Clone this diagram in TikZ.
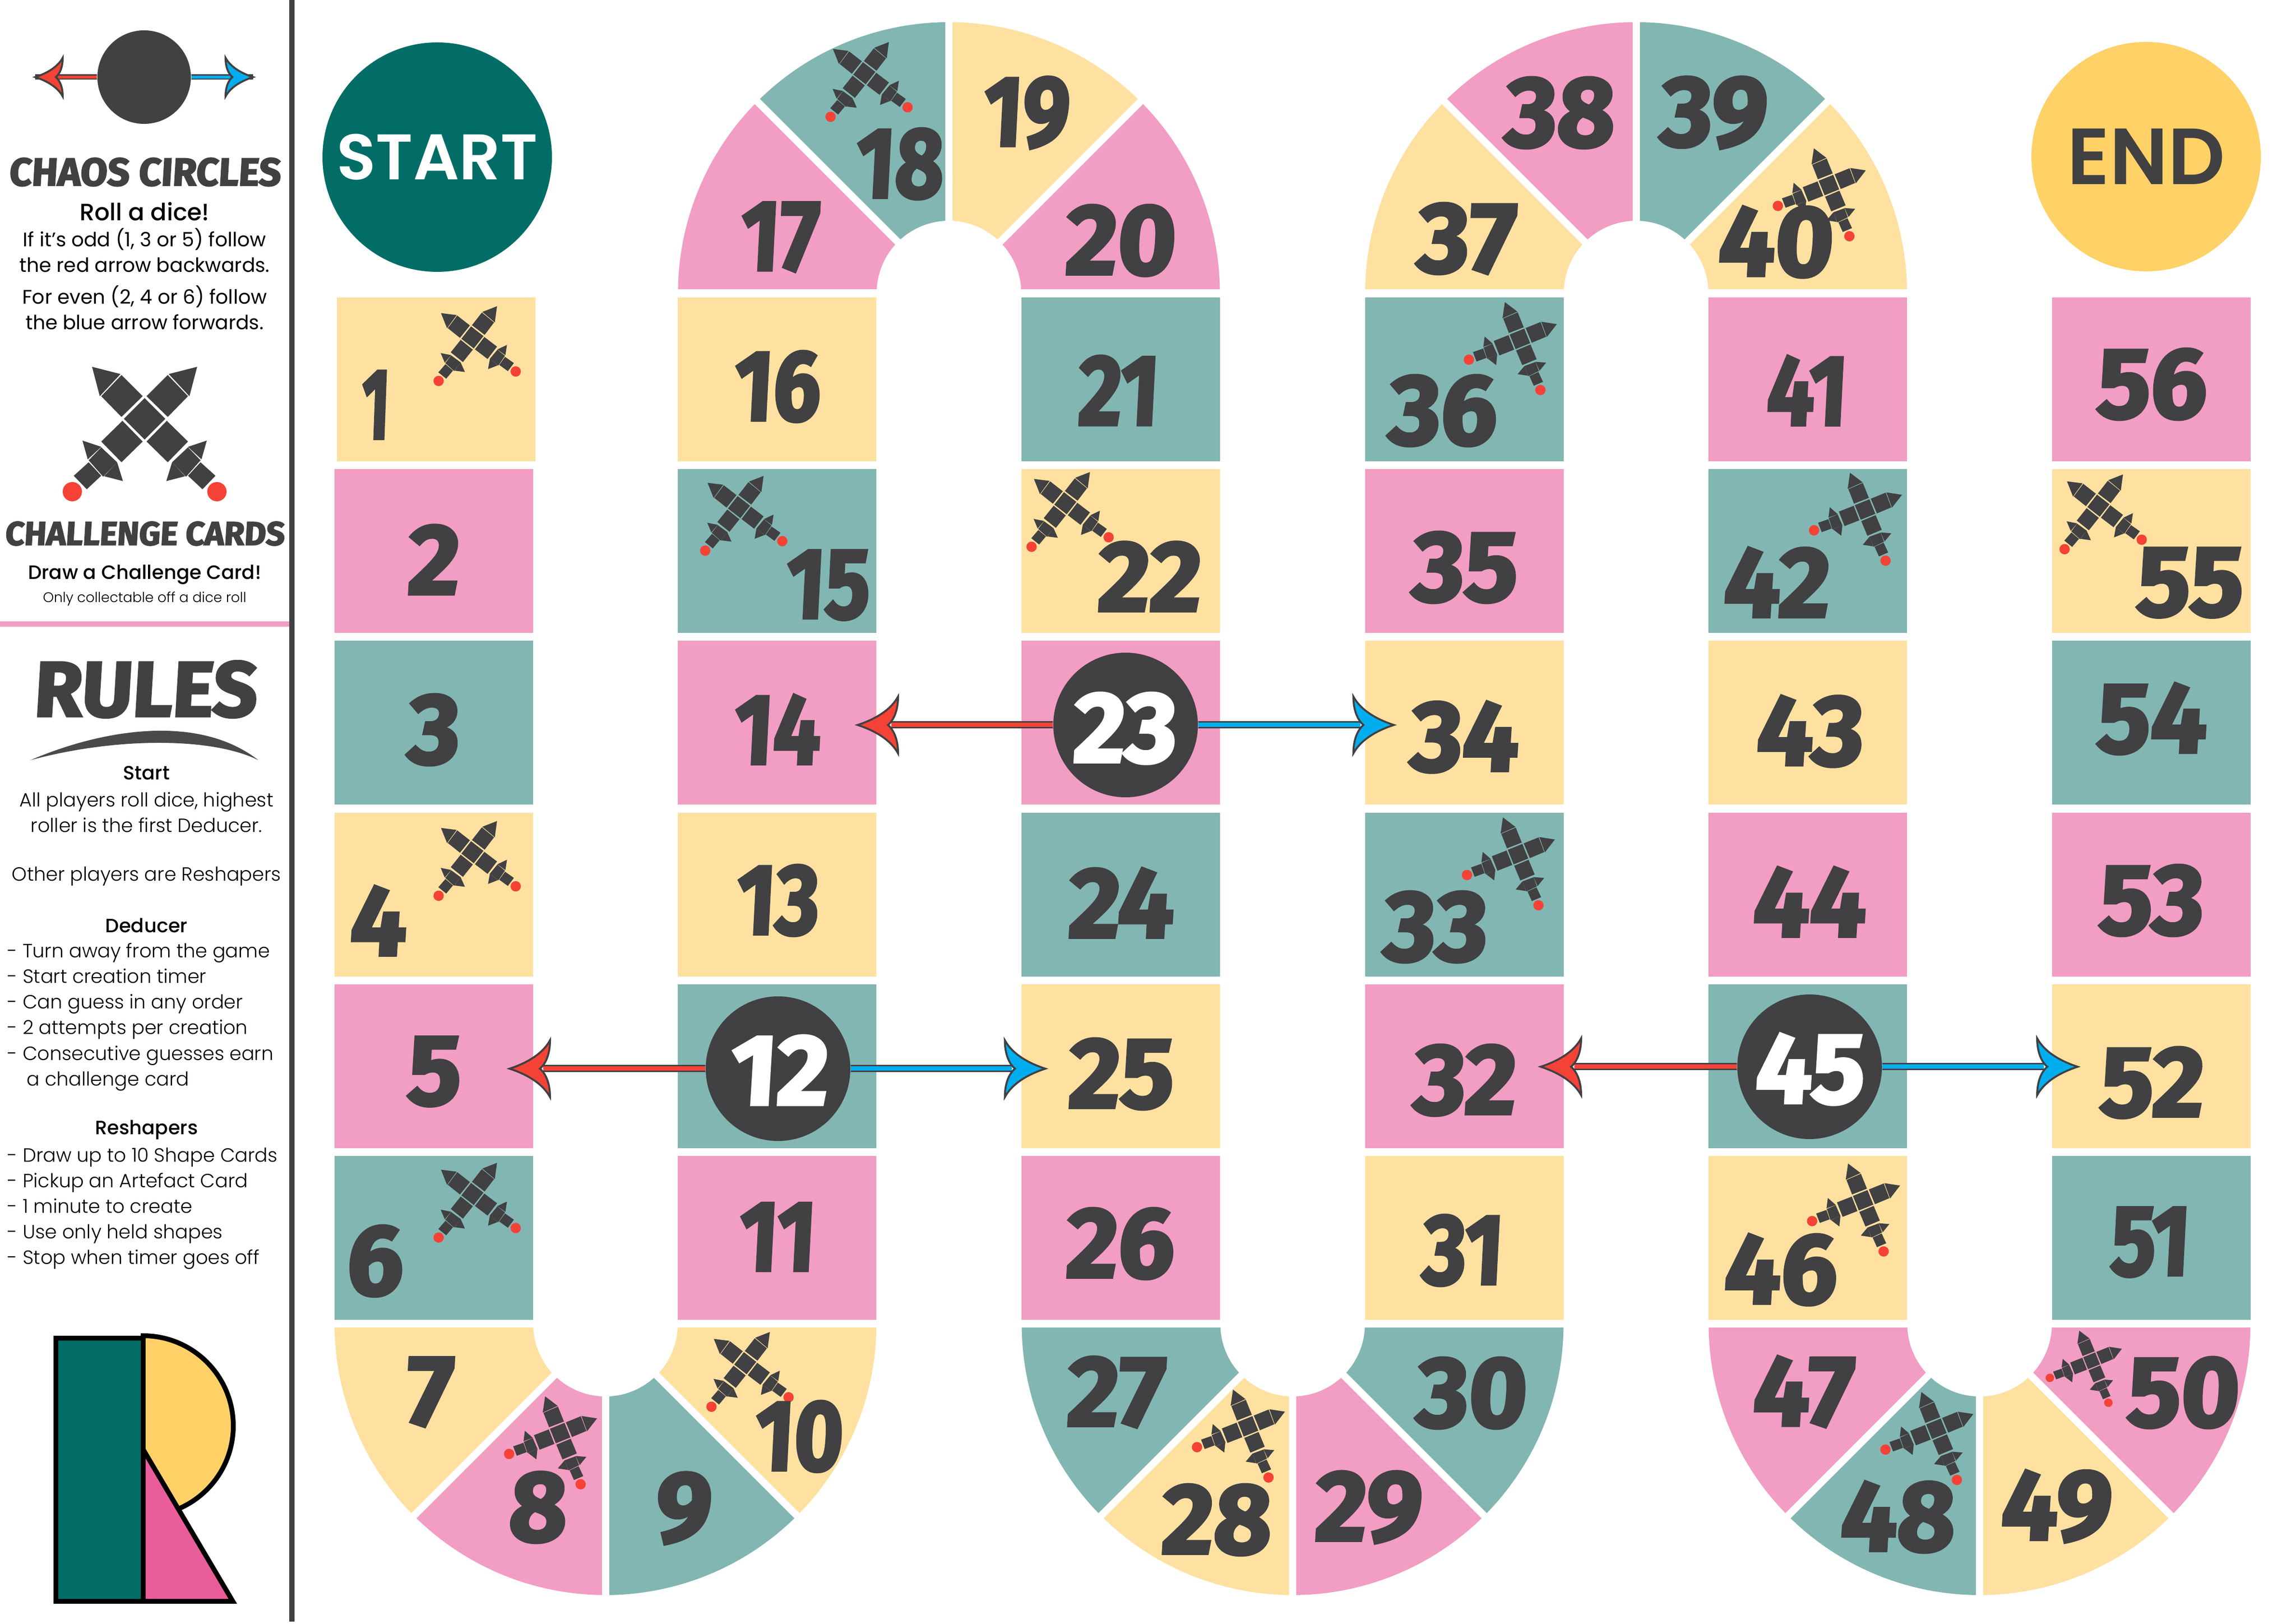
\documentclass[tikz,border=0pt]{standalone}
\usepackage{fontspec}
\setmainfont{Poppins}
\newfontfamily\brushfont[UprightFont=* Bold,FakeBold=3,FakeSlant=0.06,Numbers=Proportional]{Fira Sans}
\newfontfamily\lightfont[UprightFont=* Light]{Poppins}
\newfontfamily\midfont[UprightFont=* Medium]{Poppins}
\newfontfamily\semifont[UprightFont=* SemiBold]{Poppins}
\usetikzlibrary{calc}
\definecolor{tile0}{HTML}{82B6B2}
\definecolor{tile1}{HTML}{FEE1A1}
\definecolor{tile2}{HTML}{F29DC3}
\definecolor{ink}{HTML}{414042}
\definecolor{backred}{HTML}{F44336}
\definecolor{foreblue}{HTML}{00AEEF}
\definecolor{logoteal}{HTML}{016D66}
\definecolor{logosun}{HTML}{FFD166}
\definecolor{logopink}{HTML}{E95D9B}
\def\ringsector[#1](#2)(#3:#4){\fill[#1] ($(#2)+(#3:5.62)$) arc (#3:#4:5.62) -- ($(#2)+(#4:1.5)$) arc (#4:#3:1.5) -- cycle;}
\def\narrowdigits#1{\scalebox{0.84}[1]{#1}}
\tikzset{
	tile/.style={minimum width=4.115cm,minimum height=3.4cm,inner sep=0},
	num/.style={inner sep=0,text=ink,font=\brushfont\fontsize{59}{59}\selectfont},
	disc/.style={circle,fill=ink,minimum size=3cm,inner sep=0},
	gap/.style={white,line width=1.5mm},
	head/.style={inner sep=0,text=ink,font=\brushfont\fontsize{23}{23}\selectfont},
	body/.style={inner sep=0,align=center,font=\fontsize{11.6}{15.1}\selectfont},
	subhead/.style={inner sep=0,font=\midfont\fontsize{11.4}{15}\selectfont},
	lightbody/.style={inner sep=0,align=left,font=\lightfont\fontsize{11.3}{15.1}\selectfont},
	rail/.pic={
		\fill[ink,draw=ink,line width=0.4mm,fill=#1] (0,0) .. controls (-0.4,0.13) and (-0.7,0.33) .. (-0.84,0.59) .. controls (-0.84,0.3) and (-0.75,0.1) .. (-0.63,0) .. controls (-0.75,-0.1) and (-0.84,-0.3) .. (-0.84,-0.59) .. controls (-0.7,-0.33) and (-0.4,-0.13) .. cycle;
	},
	swords/.pic={
		\fill[ink] (0,0.43) -- (0.43,0) -- (0,-0.43) -- (-0.43,0) -- cycle;
		\foreach \m in {1,-1}{
			\begin{scope}[xscale=\m]
				\fill[ink] (-1.09,1.08) -- (-0.50,0.93) -- (-0.93,0.47) -- cycle;
				\fill[ink] (-0.48,0.91) -- (-0.04,0.47) -- (-0.48,0.04) -- (-0.90,0.47) -- cycle;
				\fill[ink] (-0.46,-0.04) -- (-0.04,-0.47) -- (-0.48,-0.90) -- (-0.90,-0.47) -- cycle;
				\fill[ink] (-0.90,-0.59) -- (-0.57,-0.90) -- (-0.86,-1.20) -- (-1.16,-0.86) -- cycle;
				\fill[ink] (-1.16,-0.90) -- (-0.90,-1.18) -- (-1.20,-1.46) -- (-1.47,-1.18) -- cycle;
				\fill[ink] (-1.29,-0.45) -- (-0.90,-0.58) -- (-1.18,-0.84) -- cycle;
				\fill[ink] (-0.84,-1.19) -- (-0.57,-0.90) -- (-0.45,-1.29) -- cycle;
				\fill[backred] (-1.50,-1.51) circle (0.20);
			\end{scope}
		}
	}
}
\begin{document}
\begin{tikzpicture}
	\useasboundingbox (0,0) rectangle (47.63,33.69);
	%%%%% SIDEBAR %%%%%
	\fill[ink] (6.00,0.05) rectangle (6.11,33.69);
	\fill[tile2] (0,20.69) rectangle (6.00,20.80);
	
	\node[disc,minimum size=1.94cm] (sidedisc) at (2.99,32.09) {};
	\coordinate (sidered) at (0.73,32.09);
	\coordinate (sideblue) at (5.25,32.09);
	\draw[ink,line width=1.1mm] (sidedisc) -- (sidered);
	\draw[ink,line width=1.1mm] (sidedisc) -- (sideblue);
	\draw[backred,line width=0.6mm] (sidedisc) -- ($(sidered)+(0.4,0)$);
	\draw[foreblue,line width=0.6mm] (sidedisc) -- ($(sideblue)-(0.4,0)$);
	\pic[rotate=180,scale=0.68] at (sidered) {rail=backred};
	\pic[scale=0.68] at (sideblue) {rail=foreblue};
	
	\node[head] (chaoshead) at (3.00,30.12) {CHAOS CIRCLES};
	\node[subhead,font=\midfont\fontsize{14}{15}\selectfont] (rolldice) at (3.00,29.30) {Roll a dice!};
	\node[body] (oddrule) at (3.00,28.50) {If it's odd (1, 3 or 5) follow\\the red arrow backwards.};
	\node[body] (evenrule) at (3.00,27.31) {For even (2, 4 or 6) follow\\the blue arrow forwards.};
	\pic at (3.00,25.00) {swords};
	\node[head,font=\brushfont\fontsize{19.5}{22}\selectfont] (cardhead) at (3.00,22.62) {CHALLENGE CARDS};
	\node[subhead] (drawcard) at (3.00,21.77) {Draw a Challenge Card!};
	\node[body,font=\lightfont\fontsize{8.2}{10}\selectfont] (collect) at (3.00,21.27) {Only collectable off a dice roll};
	
	\node[head,font=\brushfont\fontsize{46}{46}\selectfont] (ruleshead) at (3.00,19.39) {RULES};
	\fill[ink!95] (0.63,17.92) .. controls (2.1,18.55) and (4.1,18.9) .. (5.36,17.92) .. controls (4.4,18.4) and (2.4,18.4) .. cycle;
	\node[subhead] (starthead) at (3.04,17.65) {Start};
	\node[lightbody,align=center] (startrule) at (3.04,16.84) {All players roll dice, highest\\roller is the first Deducer.};
	\node[lightbody] (otherrule) at (3.04,15.51) {Other players are Reshapers};
	\node[subhead] (deducerhead) at (3.04,14.49) {Deducer};
	\node[lightbody,anchor=north west] (deducerrule) at (0.15,14.13) {- Turn away from the game\\- Start creation timer\\- Can guess in any order\\- 2 attempts per creation\\- Consecutive guesses earn\\\hspace*{0.4cm}a challenge card};
	\node[subhead] (reshaperhead) at (3.04,10.25) {Reshapers};
	\node[lightbody,anchor=north west] (reshaperrule) at (0.15,9.89) {- Draw up to 10 Shape Cards\\- Pickup an Artefact Card\\- 1 minute to create\\- Use only held shapes\\- Stop when timer goes off};
	
	%%%%% LOGO %%%%%
	\draw[line width=1mm,fill=logosun] (2.97,5.98) arc (90:-90:1.87) -- cycle;
	\draw[line width=1mm,fill=logopink] (2.97,3.62) -- (4.83,0.47) -- (2.97,0.47) -- cycle;
	\draw[line width=1mm,fill=logoteal] (1.16,5.93) rectangle (2.97,0.47);
	
	%%%%% ENDS %%%%%
	\node[circle,fill=logoteal,minimum size=4.76cm,inner sep=0,text=white,font=\semifont\fontsize{38}{38}\selectfont] (start) at (9.07,30.43) {START};
	\node[circle,fill=logosun,minimum size=4.76cm,inner sep=0,text=ink,font=\semifont\fontsize{47}{47}\selectfont] (end) at (44.52,30.44) {END};
	
	%%%%% TILES %%%%%
	\foreach \n/\x/\y in {1/9.05/25.82,2/9.00/22.26,3/9.00/18.70,4/9.00/15.13,5/9.00/11.57,6/9.00/8.01,
		11/16.12/8.01,12/16.12/11.57,13/16.12/15.13,14/16.12/18.70,15/16.12/22.26,16/16.12/25.82,
		21/23.25/25.82,22/23.25/22.26,23/23.25/18.70,24/23.25/15.13,25/23.25/11.57,26/23.25/8.01,
		31/30.38/8.01,32/30.38/11.57,33/30.38/15.13,34/30.38/18.70,35/30.38/22.26,36/30.38/25.82,
		41/37.50/25.82,42/37.50/22.26,43/37.50/18.70,44/37.50/15.13,45/37.50/11.57,46/37.50/8.01,
		51/44.63/8.01,52/44.63/11.57,53/44.63/15.13,54/44.63/18.70,55/44.63/22.26,56/44.63/25.82}{
		\pgfmathtruncatemacro{\c}{mod(\n,3)}
		\node[tile,fill=tile\c] (t\n) at (\x,\y) {};
	}
	
	% bends, bottom
	\foreach \x/\n in {12.56/7,26.815/27,41.065/47}{
		\pgfmathtruncatemacro{\c}{mod(\n,3)}
		\ringsector[tile\c](\x,6.22)(180:225);
		\pgfmathtruncatemacro{\c}{mod(\n+1,3)}
		\ringsector[tile\c](\x,6.22)(225:270);
		\pgfmathtruncatemacro{\c}{mod(\n+2,3)}
		\ringsector[tile\c](\x,6.22)(270:315);
		\pgfmathtruncatemacro{\c}{mod(\n+3,3)}
		\ringsector[tile\c](\x,6.22)(315:360);
		\foreach \a in {225,270,315}
			\draw[gap] (\x,6.22) -- +(\a:5.8);
		\fill[white] (\x-5.7,6.15) rectangle (\x+5.7,6.30);
	}
	% bends, top
	\foreach \x/\n in {19.685/17,33.94/37}{
		\pgfmathtruncatemacro{\c}{mod(\n,3)}
		\ringsector[tile\c](\x,27.61)(180:135);
		\pgfmathtruncatemacro{\c}{mod(\n+1,3)}
		\ringsector[tile\c](\x,27.61)(135:90);
		\pgfmathtruncatemacro{\c}{mod(\n+2,3)}
		\ringsector[tile\c](\x,27.61)(90:45);
		\pgfmathtruncatemacro{\c}{mod(\n+3,3)}
		\ringsector[tile\c](\x,27.61)(45:0);
		\foreach \a in {135,90,45}
			\draw[gap] (\x,27.61) -- +(\a:5.8);
		\fill[white] (\x-5.7,27.53) rectangle (\x+5.7,27.69);
	}
	
	%%%%% SWORDS %%%%%
	\foreach \x/\y in {9.80/26.69,9.80/16.01,9.80/8.92,15.46/5.41,15.33/23.17,17.93/32.17,22.10/23.25,43.53/23.20}
		\pic[rotate=7,scale=0.537] at (\x,\y) {swords};
	\foreach \x/\y in {31.53/26.66,37.94/29.85,38.69/23.12,31.49/15.97,38.65/8.79,25.89/4.10,40.17/4.05,11.62/3.96}
		\pic[rotate=-23,scale=0.537] at (\x,\y) {swords};
	\pic[rotate=-23,scale=0.44] at (43.39,5.46) {swords};
	
	%%%%% NUMBERS %%%%%
	\foreach \n/\x/\y in {2/8.97/22.08,3/8.97/18.55,4/7.82/14.59,5/8.98/11.46,6/7.75/7.53,
		7/8.88/4.81,8/11.13/2.42,9/14.15/2.40,20/23.22/28.70,
		22/23.82/21.73,24/23.23/14.96,25/23.23/11.41,26/23.21/7.89,27/23.12/4.81,
		28/25.21/2.16,29/28.36/2.42,30/30.50/4.79,32/30.36/11.28,33/29.75/14.46,
		34/30.35/18.40,35/30.36/21.92,36/29.90/25.17,37/30.39/28.74,38/32.33/31.35,39/35.52/31.35,
		40/36.81/28.67,42/36.83/21.61,43/37.52/18.52,44/37.51/14.98,46/36.91/7.35,
		47/37.38/4.82,48/39.34/2.22,49/42.63/2.44,50/45.26/4.80,52/44.61/11.23,
		53/44.60/15.01,54/44.61/18.78,55/45.40/21.60,56/44.61/25.72}
		\node[num] (n\n) at (\x,\y) {\n};
	% the ones are much thinner in the original
	\foreach \n/\x/\y in {10/16.55/3.89,11/16.10/8.03,13/16.11/15.01,14/16.10/18.56,
		15/17.15/21.55,16/16.10/25.67,17/16.15/28.77,18/18.64/30.29,19/21.27/31.35,
		21/23.18/25.59,31/30.32/7.75,41/37.46/25.59,51/44.58/7.92}
		\node[num] (n\n) at (\x,\y) {\narrowdigits{\n}};
	\node[num] (n1) at (7.77,25.29) {\scalebox{0.6}[1]{1}};
	
	%%%%% CHAOS CIRCLES %%%%%
	\foreach \n/\x/\y/\numx/\numy/\redx/\bluex in {12/16.14/11.52/16.14/11.49/10.57/21.685,23/23.35/18.65/23.31/18.58/17.79/28.915,45/37.54/11.56/37.52/11.51/31.96/43.10}{
		\node[disc] (c\n) at (\x,\y) {};
		\node[num,text=white] (n\n) at (\numx,\numy) {\n};
		\coordinate (r\n) at (\redx,\y);
		\coordinate (b\n) at (\bluex,\y);
		\draw[ink,line width=1.5mm] (c\n) -- ($(r\n)+(0.7,0)$);
		\draw[ink,line width=1.5mm] (c\n) -- ($(b\n)-(0.7,0)$);
		\draw[backred,line width=0.9mm] (c\n) -- ($(r\n)+(0.7,0)$);
		\draw[foreblue,line width=0.9mm] (c\n) -- ($(b\n)-(0.7,0)$);
		\pic[rotate=180] at (r\n) {rail=backred};
		\pic at (b\n) {rail=foreblue};
	}
\end{tikzpicture}
\end{document}
